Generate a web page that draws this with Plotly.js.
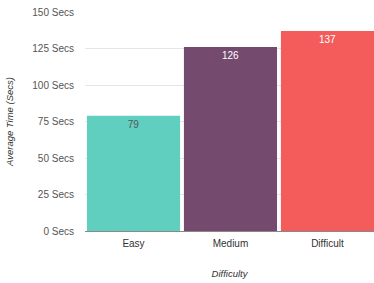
<!DOCTYPE html>
<html><head><meta charset="utf-8">
<script src="https://cdn.plot.ly/plotly-3.0.1.min.js"></script>
<style>html,body{margin:0;padding:0;background:#fff;}#chart{width:374px;height:283px;}</style>
</head><body><div id="chart"></div>
<script>
const categories = ["Easy", "Medium", "Difficult"];
const values = [79, 126, 137];
const barColors = ["#60cfbf", "#754a6f", "#f35c5b"];
const textColors = ["#555555", "#ffffff", "#ffffff"];
const tickVals = [0, 25, 50, 75, 100, 125, 150];
const tickText = ["0 Secs", "25 Secs", "50 Secs", "75 Secs", "100 Secs", "125 Secs", "150 Secs"];

Plotly.newPlot("chart", [{
  type: "bar",
  x: categories,
  y: values,
  marker: {color: barColors},
  text: values.map(String),
  textposition: "inside",
  insidetextanchor: "end",
  textfont: {family: "Arial, Liberation Sans, sans-serif", size: 10, color: textColors},
  hoverinfo: "none"
}], {
  width: 374, height: 283,
  margin: {l: 85, r: 0, t: 12, b: 52},
  paper_bgcolor: "#fff", plot_bgcolor: "#fff",
  bargap: 0.04,
  showlegend: false,
  xaxis: {
    range: [-0.5, 2.48],
    showgrid: false,
    showline: true, linecolor: "#888", linewidth: 1,
    ticks: "", ticklabelstandoff: 3,
    tickfont: {family: "Arial, Liberation Sans, sans-serif", size: 10, color: "#333"},
    title: {text: "Difficulty", font: {family: "Arial, Liberation Sans, sans-serif", size: 9.5, color: "#333", style: "italic"}, standoff: 22}
  },
  yaxis: {
    range: [0, 150],
    tickvals: tickVals, ticktext: tickText,
    showgrid: true, gridcolor: "#e6e6e6", gridwidth: 1,
    zeroline: false,
    ticks: "", ticklabelstandoff: 10,
    tickfont: {family: "Arial, Liberation Sans, sans-serif", size: 10, color: "#555"},
    title: {text: "Average Time (Secs)", font: {family: "Arial, Liberation Sans, sans-serif", size: 9.5, color: "#333", style: "italic"}, standoff: 16}
  }
}, {displayModeBar: false, staticPlot: true});
</script></body></html>
